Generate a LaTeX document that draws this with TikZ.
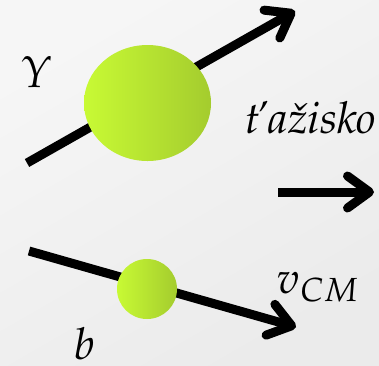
\documentclass[tikz,border=0pt]{standalone}
\usepackage[T1,TU]{fontenc}
\usepackage[slantedGreek]{mathpazo}
\usetikzlibrary{arrows.meta,shapes.geometric}
\definecolor{ballL}{RGB}{200,250,52}
\definecolor{ballR}{RGB}{164,204,46}
\definecolor{bgA}{RGB}{246,246,246}
\definecolor{bgB}{RGB}{235,235,235}
\tikzset{
  vec/.style={line width=9pt, -{Straight Barb[length=22pt,width=32pt,round]}},
  ball/.style={ellipse, draw=none, inner sep=0pt, shading=axis, left color=ballL, right color=ballR},
  lbl/.style={inner sep=0pt, font=\fontsize{44}{50}\selectfont}
}
\begin{document}
\begin{tikzpicture}[x=1pt,y=-1pt]
  \useasboundingbox (0,0) rectangle (379,365);
  \shade[top color=bgA, bottom color=bgB, shading angle=30] (0,0) rectangle (379,365);
  % coordinates
  \coordinate (a1) at (27,163);
  \coordinate (a2) at (295,11);
  \coordinate (m1) at (278,192);
  \coordinate (m2) at (374,192);
  \coordinate (b1) at (29,251);
  \coordinate (b2) at (296,327);
  % arrows
  \draw[vec] (a1) -- (a2);
  \draw[vec] (m1) -- (m2);
  \draw[vec] (b1) -- (b2);
  % balls
  \node[ball, minimum width=127pt, minimum height=116pt] (big) at (147.5,103) {};
  \node[ball, minimum width=60pt, minimum height=60pt] (small) at (147,289) {};
  % labels
  \node[lbl, anchor=base] (ups) at (37,87) {$\Upsilon$};
  \node[lbl, anchor=base west] (taz) at (245,133) {\fontencoding{T1}\fontfamily{pplx}\fontshape{it}\selectfont \v{t}a\v{z}isko};
  \node[lbl, anchor=base west] (vcm) at (277,293) {$v_{CM}$};
  \node[lbl, anchor=base] (bb) at (85,359) {$b$};
\end{tikzpicture}
\end{document}
